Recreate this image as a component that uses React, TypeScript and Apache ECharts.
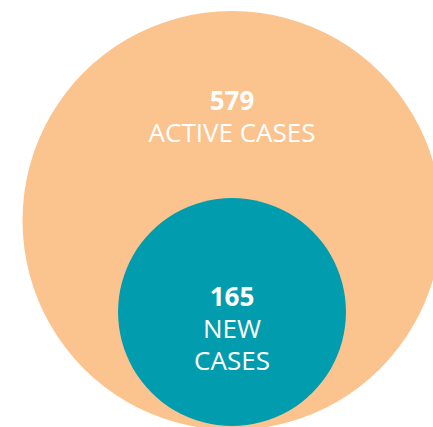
import { useEffect, useRef } from "react";
import * as echarts from "echarts";

// Data
const categories = ["ACTIVE CASES", "NEW CASES"];
const labelLines = [["ACTIVE CASES"], ["NEW", "CASES"]];
const values = [579, 165];

// Styles / layout
const colors = ["#FBC38D", "#029CAF"];
const W = 433;
const H = 427;
const CX = 232;
const centersY = [220.5, 312];
const labelOffsetY = [-105, 16];
const MAX_R = 209.5;
const radius = (v: number) => MAX_R * Math.pow(v / Math.max(...values), 0.485);

export default function App() {
  const ref = useRef<HTMLDivElement>(null);
  useEffect(() => {
    if (!ref.current) return;
    const chart = echarts.init(ref.current, null, { renderer: "svg" });
    const data = values.map((v, i) => ({
      name: categories[i],
      value: [CX, centersY[i], v],
      symbolSize: radius(v) * 2,
      itemStyle: { color: colors[i], opacity: 1 },
      label: {
        show: true,
        position: "inside",
        offset: [0, labelOffsetY[i]],
        formatter:
          `{num|${v}}\n` + labelLines[i].map((l) => `{txt|${l}}`).join("\n"),
        rich: {
          num: {
            fontFamily: "Open Sans",
            fontSize: 26,
            fontWeight: "bold",
            lineHeight: 32,
            color: "#ffffff",
            align: "center",
          },
          txt: {
            fontFamily: "Open Sans",
            fontSize: 26,
            fontWeight: "normal",
            lineHeight: 32,
            color: "#ffffff",
            align: "center",
          },
        },
      },
    }));
    chart.setOption({
      animation: false,
      grid: { left: 0, right: 0, top: 0, bottom: 0 },
      xAxis: { type: "value", min: 0, max: W, show: false },
      yAxis: { type: "value", min: 0, max: H, inverse: true, show: false },
      series: [
        {
          type: "scatter",
          symbol: "circle",
          clip: false,
          silent: true,
          data,
          emphasis: { disabled: true },
        },
      ],
    });
    return () => chart.dispose();
  }, []);
  return (
    <div
      ref={ref}
      style={{ position: "fixed", left: 0, top: 0, width: W, height: H, background: "#fff" }}
    />
  );
}
